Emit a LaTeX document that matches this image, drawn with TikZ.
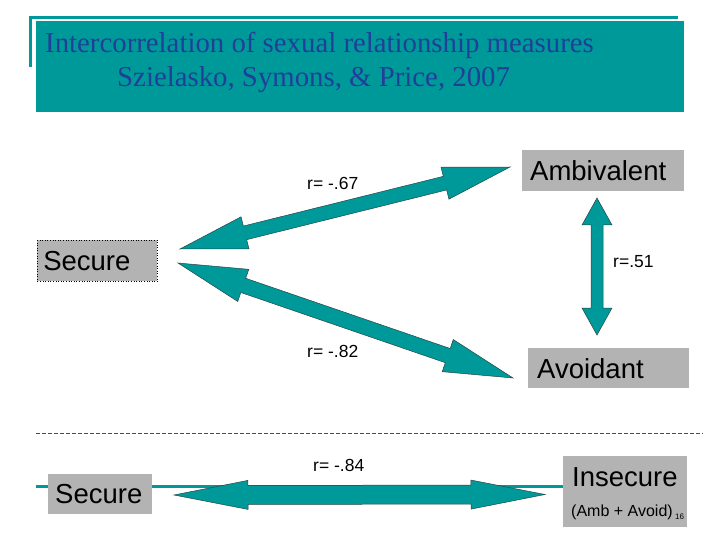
\documentclass[tikz,border=0pt]{standalone}
\usepackage{fontspec}
\setmainfont{Liberation Sans}
\newfontfamily\titlefont{Liberation Serif}
\usetikzlibrary{calc}
\definecolor{tealfill}{RGB}{0,153,153}
\definecolor{titleblue}{RGB}{31,63,153}
\definecolor{boxgray}{RGB}{179,179,179}
\definecolor{arrowline}{RGB}{40,70,70}
\newcommand{\blockarrow}[5]{%
  \coordinate (ba1) at ($(#1)!#3!(#2)$);
  \coordinate (ba2) at ($(#2)!#3!(#1)$);
  \filldraw[barrow] (#1) -- ($(ba1)!#4!90:(#2)$) -- ($(ba1)!#5!90:(#2)$)
    -- ($(ba2)!#5!-90:(#1)$) -- ($(ba2)!#4!-90:(#1)$) -- (#2)
    -- ($(ba2)!#4!90:(#1)$) -- ($(ba2)!#5!90:(#1)$)
    -- ($(ba1)!#5!-90:(#2)$) -- ($(ba1)!#4!-90:(#2)$) -- cycle;}
\tikzset{
  gbox/.style={fill=boxgray, anchor=north west, inner ysep=0pt, align=left,
    font=\fontsize{27.5}{33}\selectfont},
  rlabel/.style={anchor=west, inner sep=0pt, font=\fontsize{17.5}{21}\selectfont},
  barrow/.style={fill=tealfill, draw=arrowline, line width=0.5pt, line join=miter},
  frameline/.style={draw=tealfill, line width=3pt}
}
\begin{document}
\begin{tikzpicture}[x=1pt,y=-1pt]
\useasboundingbox[fill=white] (0,0) rectangle (720,540);
% title
\draw[frameline] (30.5,67) -- (30.5,18) -- (678,18);
\node[fill=tealfill, anchor=north west, minimum width=648pt, minimum height=91pt, inner sep=0pt] (title) at (36,21) {};
\node[anchor=base west, inner sep=0pt, text=titleblue, font=\titlefont\fontsize{28.8}{34}\selectfont] (t1) at (45,53) {Intercorrelation of sexual relationship measures};
\node[anchor=base west, inner sep=0pt, text=titleblue, font=\titlefont\fontsize{28.8}{34}\selectfont] (t2) at (117,87) {Szielasko, Symons, \& Price, 2007};
% upper part
\node[gbox, draw=black, dotted, line width=0.6pt, inner xsep=6pt, text width=108pt, minimum height=41pt] (sec) at (37,240) {Secure};
\node[gbox, inner xsep=8pt, text width=146pt, minimum height=41pt] (amb) at (522,150) {Ambivalent};
\node[gbox, inner xsep=9pt, text width=143pt, minimum height=40pt] (avo) at (528,348) {Avoidant};
\coordinate (a1s) at (180,249);
\coordinate (a1e) at (510,167);
\coordinate (a2s) at (178,263);
\coordinate (a2e) at (513,378);
\coordinate (a3s) at (597,198);
\coordinate (a3e) at (597,335);
\blockarrow{a1s}{a1e}{67pt}{16.5pt}{7pt}
\blockarrow{a2s}{a2e}{69pt}{17pt}{7.5pt}
\blockarrow{a3s}{a3e}{27pt}{15pt}{6pt}
\node[rlabel] (r1) at (307,183) {r= -.67};
\node[rlabel] (r2) at (307,351) {r= -.82};
\node[rlabel] (r3) at (613,262) {r=.51};
% separator
\draw[black!70, line width=0.8pt, dash pattern=on 4pt off 2pt] (36,433) -- (703,433);
% lower part
\draw[draw=tealfill, line width=3pt] (36,486.5) -- (563,486.5);
\node[gbox, inner xsep=7pt, text width=90pt, minimum height=40pt] (sec2) at (48,474) {Secure};
\node[fill=boxgray, anchor=north west, minimum width=124pt, minimum height=71pt, inner sep=0pt] (ins) at (563,456) {};
\node[anchor=west, inner sep=0pt, font=\fontsize{27.5}{33}\selectfont] (inst) at (572,477) {Insecure};
\node[anchor=west, inner sep=0pt, font=\fontsize{16}{19}\selectfont] (insb) at (571,512) {(Amb + Avoid)};
\node[anchor=west, inner sep=0pt, font=\fontsize{8}{9}\selectfont] (pg) at (675,517) {16};
\coordinate (a4s) at (174,495);
\coordinate (a4e) at (545,494.5);
\blockarrow{a4s}{a4e}{74pt}{14.5pt}{9.5pt}
\node[rlabel] (r4) at (313,465) {r= -.84};
\end{tikzpicture}
\end{document}
